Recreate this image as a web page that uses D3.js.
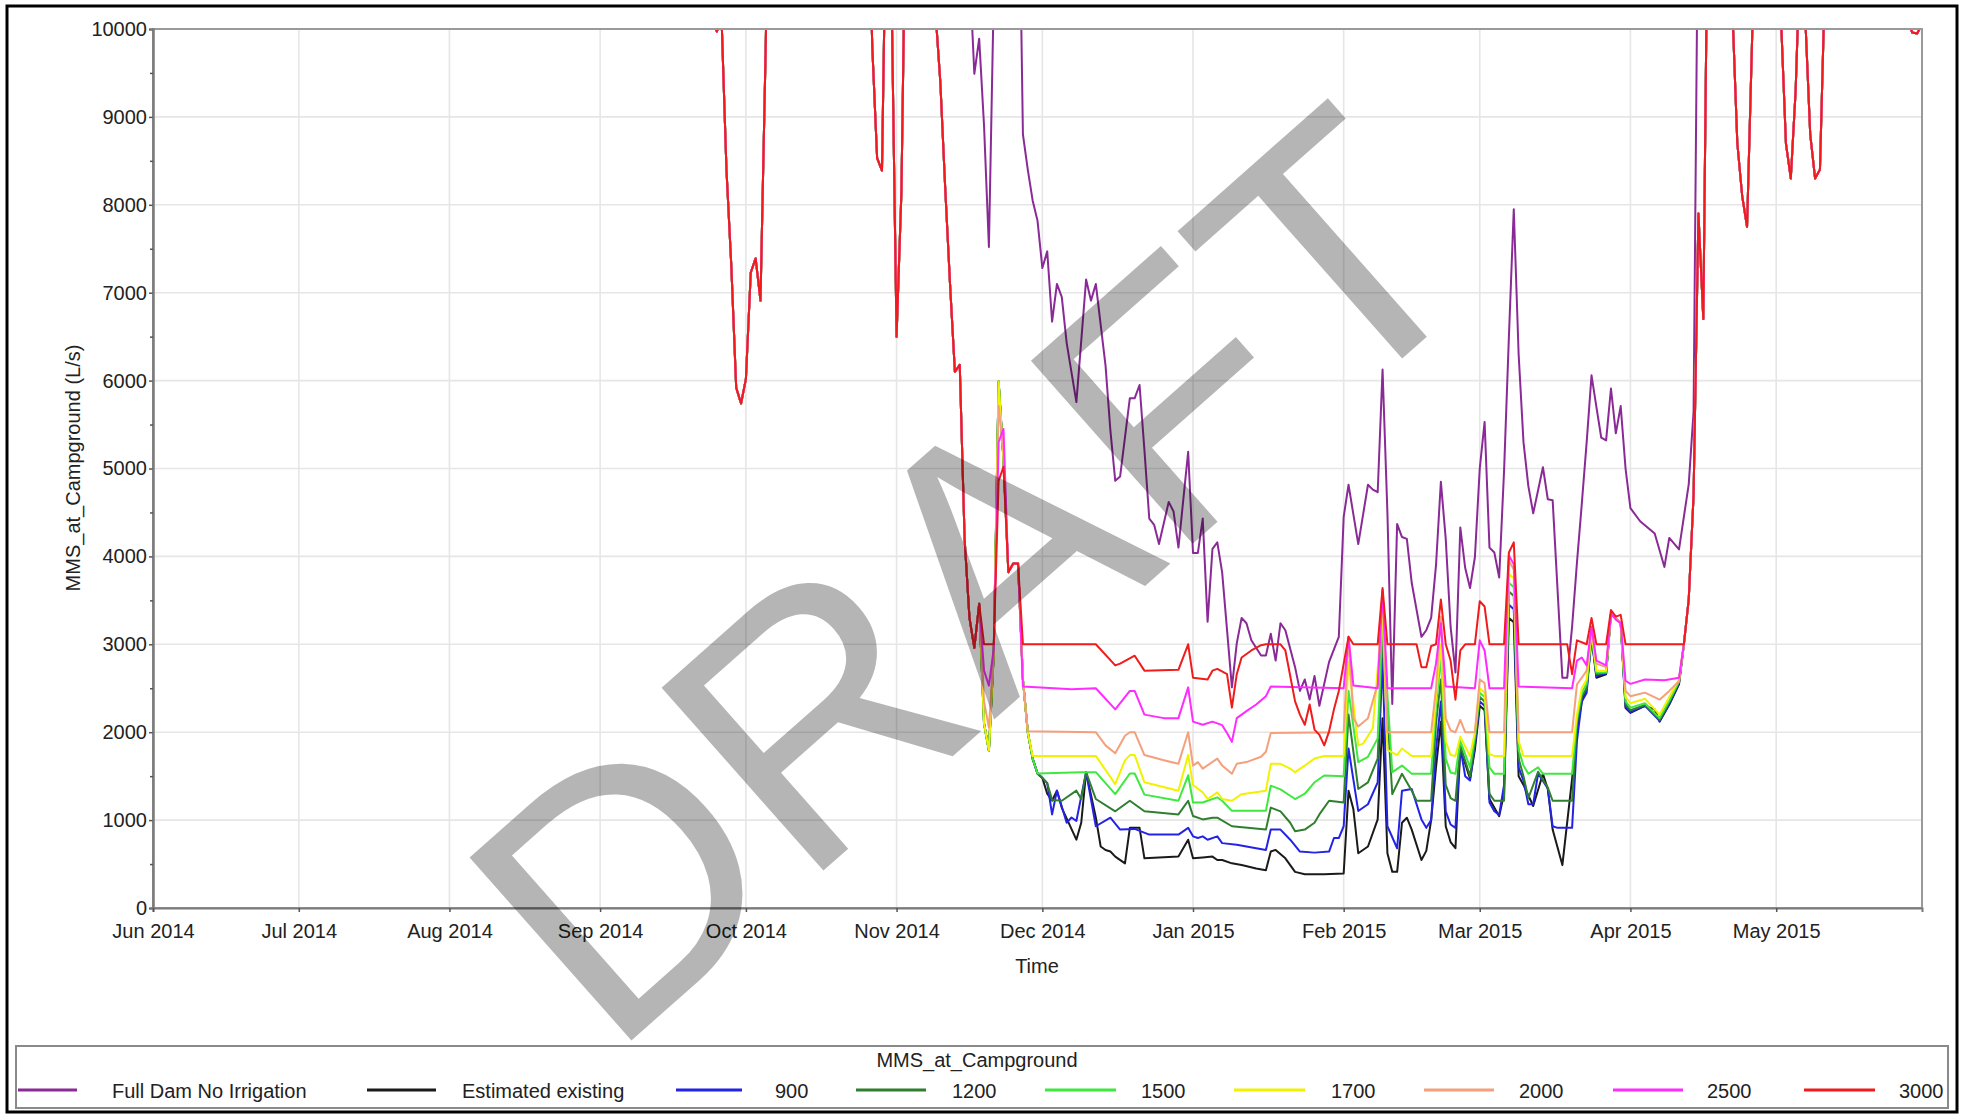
<!DOCTYPE html>
<html>
<head>
<meta charset="utf-8">
<script src="https://cdn.jsdelivr.net/npm/d3@7"></script>
<style>
  body { margin: 0; background: #fff; }
  svg { display: block; font-family: "Liberation Sans", Arial, sans-serif; }
</style>
</head>
<body>
<svg id="chart" width="1964" height="1117"></svg>
<script>
// ---- data -----------------------------------------------------------------
// Flow at the campground gauge (L/s), daily, Jun 2014 - May 2015.
// While natural flow is high every release scenario carries the same value.
const highFlowAutumn = [
  ["2014-09-20",12000],["2014-09-24",10300],["2014-09-25",9970],["2014-09-26",10100],
  ["2014-09-27",8400],["2014-09-28",7300],["2014-09-29",5920],["2014-09-30",5740],
  ["2014-10-01",6020],["2014-10-02",7230],["2014-10-03",7390],["2014-10-04",6910],
  ["2014-10-05",9600],["2014-10-06",12500],["2014-10-26",12000],["2014-10-27",9800],
  ["2014-10-28",8530],["2014-10-29",8390],["2014-10-30",12000],["2014-10-31",10300],
  ["2014-11-01",6500],["2014-11-02",8150],["2014-11-03",12000],["2014-11-08",12000],
  ["2014-11-09",10200],["2014-11-10",9400],["2014-11-11",8200],["2014-11-12",7100],
  ["2014-11-13",6100],["2014-11-14",6180],["2014-11-15",4200],["2014-11-16",3300],
  ["2014-11-17",2960],["2014-11-18",3460]
];

const highFlowSpring = [
  ["2015-04-12",3000],["2015-04-13",3510],["2015-04-14",4700],["2015-04-15",7900],
  ["2015-04-16",6700],["2015-04-17",12000],["2015-04-21",12000],["2015-04-22",10200],
  ["2015-04-23",8700],["2015-04-24",8100],["2015-04-25",7750],["2015-04-26",9800],
  ["2015-04-27",12000],["2015-05-01",12000],["2015-05-02",10100],["2015-05-03",8700],
  ["2015-05-04",8300],["2015-05-05",9300],["2015-05-06",11000],["2015-05-07",10100],
  ["2015-05-08",8800],["2015-05-09",8300],["2015-05-10",8400],["2015-05-11",10500],
  ["2015-05-12",12000],["2015-05-28",10100],["2015-05-29",9960],["2015-05-30",9950],
  ["2015-05-31",10050]
];

const fullDamNoIrrigation = [
  ["2014-11-15",12500],["2014-11-16",10700],["2014-11-17",9490],["2014-11-18",9890],
  ["2014-11-19",8900],["2014-11-20",7520],["2014-11-21",10400],["2014-11-22",12500],
  ["2014-11-26",12500],["2014-11-27",8800],["2014-11-28",8400],["2014-11-29",8050],
  ["2014-11-30",7820],["2014-12-01",7280],["2014-12-02",7470],["2014-12-03",6670],
  ["2014-12-04",7100],["2014-12-05",6950],["2014-12-06",6430],["2014-12-08",5755],
  ["2014-12-10",7150],["2014-12-11",6910],["2014-12-12",7100],["2014-12-14",6170],
  ["2014-12-15",5430],["2014-12-16",4860],["2014-12-17",4910],["2014-12-19",5800],
  ["2014-12-20",5800],["2014-12-21",5950],["2014-12-22",5210],["2014-12-23",4430],
  ["2014-12-24",4360],["2014-12-25",4140],["2014-12-27",4620],["2014-12-28",4510],
  ["2014-12-29",4100],["2014-12-31",5190],["2015-01-01",4040],["2015-01-02",4040],
  ["2015-01-03",4430],["2015-01-04",3257],["2015-01-05",4085],["2015-01-06",4160],
  ["2015-01-07",3815],["2015-01-09",2510],["2015-01-10",3010],["2015-01-11",3300],
  ["2015-01-12",3240],["2015-01-13",3046],["2015-01-15",2873],["2015-01-16",2873],
  ["2015-01-17",3120],["2015-01-18",2815],["2015-01-19",3240],["2015-01-20",3160],
  ["2015-01-22",2740],["2015-01-23",2470],["2015-01-24",2600],["2015-01-25",2373],
  ["2015-01-26",2640],["2015-01-27",2300],["2015-01-29",2800],["2015-01-31",3085],
  ["2015-02-01",4450],["2015-02-02",4815],["2015-02-04",4140],["2015-02-06",4815],
  ["2015-02-07",4760],["2015-02-08",4730],["2015-02-09",6125],["2015-02-10",4500],
  ["2015-02-11",2320],["2015-02-12",4370],["2015-02-13",4220],["2015-02-14",4200],
  ["2015-02-15",3700],["2015-02-17",3085],["2015-02-18",3160],["2015-02-19",3300],
  ["2015-02-20",3900],["2015-02-21",4850],["2015-02-22",4200],["2015-02-23",3200],
  ["2015-02-24",2680],["2015-02-25",4330],["2015-02-26",3870],["2015-02-27",3640],
  ["2015-02-28",3990],["2015-03-01",5000],["2015-03-02",5530],["2015-03-03",4100],
  ["2015-03-04",4045],["2015-03-05",3760],["2015-03-06",4970],["2015-03-07",6500],
  ["2015-03-08",7950],["2015-03-09",6300],["2015-03-10",5300],["2015-03-11",4800],
  ["2015-03-12",4490],["2015-03-14",5015],["2015-03-15",4650],["2015-03-16",4640],
  ["2015-03-18",2620],["2015-03-19",2620],["2015-03-20",3200],["2015-03-21",3930],
  ["2015-03-22",4600],["2015-03-23",5300],["2015-03-24",6060],["2015-03-25",5700],
  ["2015-03-26",5350],["2015-03-27",5320],["2015-03-28",5910],["2015-03-29",5400],
  ["2015-03-30",5710],["2015-03-31",5000],["2015-04-01",4550],["2015-04-03",4400],
  ["2015-04-06",4260],["2015-04-08",3880],["2015-04-09",4210],["2015-04-11",4080],
  ["2015-04-13",4820],["2015-04-14",5650],["2015-04-15",12000]
];

const estimatedExisting = [
  ["2014-11-19",2100],["2014-11-20",1790],["2014-11-21",2900],["2014-11-22",5990],
  ["2014-11-23",5100],["2014-11-24",3820],["2014-11-25",3920],["2014-11-26",3920],
  ["2014-11-27",2600],["2014-11-28",2000],["2014-11-29",1700],["2014-11-30",1530],
  ["2014-12-01",1480],["2014-12-02",1300],["2014-12-03",1220],["2014-12-04",1335],
  ["2014-12-05",1140],["2014-12-08",777],["2014-12-09",970],["2014-12-10",1546],
  ["2014-12-12",1030],["2014-12-13",700],["2014-12-14",660],["2014-12-15",642],
  ["2014-12-16",585],["2014-12-18",508],["2014-12-19",912],["2014-12-21",912],
  ["2014-12-22",565],["2014-12-29",585],["2014-12-31",777],["2015-01-01",565],
  ["2015-01-03",575],["2015-01-05",585],["2015-01-06",546],["2015-01-07",546],
  ["2015-01-09",508],["2015-01-11",490],["2015-01-14",450],["2015-01-16",430],
  ["2015-01-17",642],["2015-01-18",661],["2015-01-20",565],["2015-01-22",411],
  ["2015-01-24",385],["2015-01-28",385],["2015-02-01",392],["2015-02-02",1335],
  ["2015-02-03",1123],["2015-02-04",623],["2015-02-06",700],["2015-02-08",1008],
  ["2015-02-09",2160],["2015-02-10",623],["2015-02-11",411],["2015-02-12",411],
  ["2015-02-13",970],["2015-02-14",1027],["2015-02-15",892],["2015-02-17",546],
  ["2015-02-18",650],["2015-02-19",1000],["2015-02-20",1600],["2015-02-21",2120],
  ["2015-02-22",930],["2015-02-23",750],["2015-02-24",680],["2015-02-25",1815],
  ["2015-02-27",1470],["2015-02-28",1800],["2015-03-01",2300],["2015-03-02",2250],
  ["2015-03-03",1240],["2015-03-05",1045],["2015-03-06",1300],["2015-03-07",3300],
  ["2015-03-08",3250],["2015-03-09",1500],["2015-03-10",1400],["2015-03-12",1160],
  ["2015-03-14",1527],["2015-03-15",1354],["2015-03-16",892],["2015-03-18",488],
  ["2015-03-20",1470],["2015-03-21",2008],["2015-03-22",2350],["2015-03-23",2500],
  ["2015-03-24",3085],["2015-03-25",2620],["2015-03-27",2660],["2015-03-28",3350],
  ["2015-03-30",3240],["2015-03-31",2275],["2015-04-01",2220],["2015-04-04",2300],
  ["2015-04-06",2260],["2015-04-07",2120],["2015-04-09",2315],["2015-04-11",2545]
];

const release900 = [
  ["2014-11-19",2100],["2014-11-20",1790],["2014-11-21",2900],["2014-11-22",5990],
  ["2014-11-23",5100],["2014-11-24",3820],["2014-11-25",3920],["2014-11-26",3920],
  ["2014-11-27",2600],["2014-11-28",2000],["2014-11-29",1700],["2014-11-30",1530],
  ["2014-12-01",1480],["2014-12-02",1420],["2014-12-03",1065],["2014-12-04",1335],
  ["2014-12-06",970],["2014-12-07",1030],["2014-12-08",990],["2014-12-10",1546],
  ["2014-12-12",930],["2014-12-15",1027],["2014-12-17",892],["2014-12-20",900],
  ["2014-12-23",835],["2014-12-29",835],["2014-12-31",912],["2015-01-01",815],
  ["2015-01-02",796],["2015-01-03",815],["2015-01-04",777],["2015-01-06",815],
  ["2015-01-07",738],["2015-01-10",720],["2015-01-14",680],["2015-01-16",660],
  ["2015-01-17",892],["2015-01-19",892],["2015-01-21",777],["2015-01-23",642],
  ["2015-01-26",630],["2015-01-29",642],["2015-01-30",796],["2015-01-31",796],
  ["2015-02-01",930],["2015-02-02",1815],["2015-02-04",1104],["2015-02-06",1180],
  ["2015-02-08",1430],["2015-02-09",2850],["2015-02-10",930],["2015-02-12",680],
  ["2015-02-13",1335],["2015-02-15",1354],["2015-02-17",1008],["2015-02-18",912],
  ["2015-02-19",1000],["2015-02-20",1800],["2015-02-21",2350],["2015-02-22",1100],
  ["2015-02-23",950],["2015-02-24",912],["2015-02-25",1830],["2015-02-26",1500],
  ["2015-02-27",1450],["2015-02-28",1850],["2015-03-01",2350],["2015-03-02",2300],
  ["2015-03-03",1200],["2015-03-04",1100],["2015-03-05",1060],["2015-03-06",1400],
  ["2015-03-07",3450],["2015-03-08",3400],["2015-03-09",1600],["2015-03-10",1450],
  ["2015-03-11",1180],["2015-03-12",1180],["2015-03-13",1530],["2015-03-15",1360],
  ["2015-03-16",930],["2015-03-17",912],["2015-03-20",912],["2015-03-21",1900],
  ["2015-03-22",2350],["2015-03-23",2450],["2015-03-24",3090],["2015-03-25",2640],
  ["2015-03-27",2670],["2015-03-28",3350],["2015-03-30",3240],["2015-03-31",2290],
  ["2015-04-01",2230],["2015-04-04",2300],["2015-04-07",2130],["2015-04-09",2320],
  ["2015-04-11",2560]
];

const release1200 = [
  ["2014-11-19",2100],["2014-11-20",1790],["2014-11-21",2900],["2014-11-22",5990],
  ["2014-11-23",5100],["2014-11-24",3820],["2014-11-25",3920],["2014-11-26",3920],
  ["2014-11-27",2600],["2014-11-28",2000],["2014-11-29",1700],["2014-11-30",1530],
  ["2014-12-01",1480],["2014-12-02",1420],["2014-12-03",1230],["2014-12-05",1220],
  ["2014-12-08",1335],["2014-12-09",1240],["2014-12-10",1546],["2014-12-12",1240],
  ["2014-12-16",1100],["2014-12-19",1220],["2014-12-22",1100],["2014-12-29",1065],
  ["2014-12-31",1220],["2015-01-01",1046],["2015-01-03",1008],["2015-01-05",1027],
  ["2015-01-06",1027],["2015-01-09",930],["2015-01-16",892],["2015-01-17",1142],
  ["2015-01-19",1100],["2015-01-21",970],["2015-01-22",873],["2015-01-24",892],
  ["2015-01-26",970],["2015-01-27",1065],["2015-01-29",1220],["2015-02-01",1200],
  ["2015-02-02",2200],["2015-02-04",1354],["2015-02-06",1430],["2015-02-08",1700],
  ["2015-02-09",3100],["2015-02-11",1296],["2015-02-13",1527],["2015-02-15",1335],
  ["2015-02-16",1220],["2015-02-19",1220],["2015-02-20",2100],["2015-02-21",2600],
  ["2015-02-22",1400],["2015-02-23",1250],["2015-02-24",1220],["2015-02-25",1850],
  ["2015-02-27",1500],["2015-02-28",1900],["2015-03-01",2400],["2015-03-02",2350],
  ["2015-03-03",1300],["2015-03-04",1220],["2015-03-06",1220],["2015-03-07",3600],
  ["2015-03-08",3550],["2015-03-09",1700],["2015-03-10",1500],["2015-03-11",1250],
  ["2015-03-13",1550],["2015-03-15",1370],["2015-03-16",1220],["2015-03-20",1220],
  ["2015-03-21",2100],["2015-03-22",2400],["2015-03-23",2500],["2015-03-24",3100],
  ["2015-03-25",2660],["2015-03-27",2680],["2015-03-28",3350],["2015-03-30",3240],
  ["2015-03-31",2320],["2015-04-01",2250],["2015-04-04",2310],["2015-04-07",2140],
  ["2015-04-09",2340],["2015-04-11",2570]
];

const release1500 = [
  ["2014-11-19",2100],["2014-11-20",1790],["2014-11-21",2900],["2014-11-22",5990],
  ["2014-11-23",5100],["2014-11-24",3820],["2014-11-25",3920],["2014-11-26",3920],
  ["2014-11-27",2600],["2014-11-28",2000],["2014-11-29",1700],["2014-11-30",1530],
  ["2014-12-09",1545],["2014-12-12",1545],["2014-12-16",1296],["2014-12-19",1530],
  ["2014-12-20",1530],["2014-12-22",1290],["2014-12-29",1220],["2014-12-31",1510],
  ["2015-01-01",1200],["2015-01-03",1200],["2015-01-04",1220],["2015-01-06",1258],
  ["2015-01-07",1220],["2015-01-09",1105],["2015-01-16",1105],["2015-01-17",1392],
  ["2015-01-19",1350],["2015-01-21",1277],["2015-01-22",1240],["2015-01-24",1300],
  ["2015-01-26",1430],["2015-01-28",1508],["2015-02-01",1500],["2015-02-02",2470],
  ["2015-02-04",1660],["2015-02-06",1720],["2015-02-08",1930],["2015-02-09",3300],
  ["2015-02-11",1545],["2015-02-13",1620],["2015-02-15",1527],["2015-02-19",1527],
  ["2015-02-20",2300],["2015-02-21",2850],["2015-02-22",1700],["2015-02-23",1540],
  ["2015-02-24",1527],["2015-02-25",1900],["2015-02-27",1600],["2015-02-28",1950],
  ["2015-03-01",2450],["2015-03-02",2400],["2015-03-03",1600],["2015-03-04",1527],
  ["2015-03-06",1527],["2015-03-07",3700],["2015-03-08",3650],["2015-03-09",1800],
  ["2015-03-10",1620],["2015-03-11",1527],["2015-03-13",1600],["2015-03-14",1527],
  ["2015-03-20",1527],["2015-03-21",2150],["2015-03-22",2450],["2015-03-23",2550],
  ["2015-03-24",3120],["2015-03-25",2680],["2015-03-27",2680],["2015-03-28",3350],
  ["2015-03-30",3240],["2015-03-31",2350],["2015-04-01",2280],["2015-04-04",2330],
  ["2015-04-07",2160],["2015-04-09",2360],["2015-04-11",2580]
];

const release1700 = [
  ["2014-11-19",2100],["2014-11-20",1790],["2014-11-21",2900],["2014-11-22",5990],
  ["2014-11-23",5100],["2014-11-24",3820],["2014-11-25",3920],["2014-11-26",3920],
  ["2014-11-27",2600],["2014-11-28",2000],["2014-11-29",1730],["2014-12-12",1730],
  ["2014-12-16",1410],["2014-12-18",1680],["2014-12-19",1740],["2014-12-20",1740],
  ["2014-12-22",1430],["2014-12-29",1335],["2014-12-31",1740],["2015-01-01",1400],
  ["2015-01-03",1315],["2015-01-04",1240],["2015-01-06",1315],["2015-01-07",1240],
  ["2015-01-09",1220],["2015-01-11",1295],["2015-01-16",1335],["2015-01-17",1640],
  ["2015-01-19",1640],["2015-01-21",1585],["2015-01-22",1545],["2015-01-24",1620],
  ["2015-01-26",1700],["2015-01-28",1730],["2015-02-01",1730],["2015-02-02",2800],
  ["2015-02-04",1850],["2015-02-05",1870],["2015-02-07",2045],["2015-02-09",3400],
  ["2015-02-10",1800],["2015-02-12",1740],["2015-02-13",1815],["2015-02-15",1730],
  ["2015-02-19",1730],["2015-02-20",2400],["2015-02-21",3000],["2015-02-22",1900],
  ["2015-02-23",1740],["2015-02-24",1730],["2015-02-25",1950],["2015-02-27",1730],
  ["2015-02-28",2000],["2015-03-01",2500],["2015-03-02",2450],["2015-03-03",1750],
  ["2015-03-04",1730],["2015-03-06",1730],["2015-03-07",3800],["2015-03-08",3750],
  ["2015-03-09",1900],["2015-03-10",1730],["2015-03-20",1730],["2015-03-21",2200],
  ["2015-03-22",2500],["2015-03-23",2600],["2015-03-24",3150],["2015-03-25",2700],
  ["2015-03-27",2700],["2015-03-28",3350],["2015-03-30",3240],["2015-03-31",2400],
  ["2015-04-01",2330],["2015-04-04",2380],["2015-04-07",2200],["2015-04-09",2400],
  ["2015-04-11",2600]
];

const release2000 = [
  ["2014-11-19",2350],["2014-11-20",2050],["2014-11-21",2900],["2014-11-22",5710],
  ["2014-11-23",5200],["2014-11-24",3820],["2014-11-25",3920],["2014-11-26",3920],
  ["2014-11-27",2600],["2014-11-28",2010],["2014-12-12",2000],["2014-12-14",1850],
  ["2014-12-16",1760],["2014-12-18",1960],["2014-12-19",2000],["2014-12-20",2000],
  ["2014-12-22",1740],["2014-12-26",1680],["2014-12-29",1640],["2014-12-31",2000],
  ["2015-01-01",1620],["2015-01-02",1660],["2015-01-03",1585],["2015-01-06",1700],
  ["2015-01-07",1620],["2015-01-09",1527],["2015-01-10",1640],["2015-01-12",1660],
  ["2015-01-15",1720],["2015-01-16",1777],["2015-01-17",1990],["2015-02-01",2000],
  ["2015-02-02",3085],["2015-02-03",2160],["2015-02-04",2065],["2015-02-06",2160],
  ["2015-02-08",2550],["2015-02-09",3600],["2015-02-10",2000],["2015-02-19",2000],
  ["2015-02-20",2500],["2015-02-21",3315],["2015-02-22",2160],["2015-02-23",2020],
  ["2015-02-24",2000],["2015-02-25",2140],["2015-02-26",2000],["2015-02-28",2000],
  ["2015-03-01",2600],["2015-03-02",2560],["2015-03-03",2000],["2015-03-06",2000],
  ["2015-03-07",3950],["2015-03-08",3850],["2015-03-09",2000],["2015-03-20",2000],
  ["2015-03-21",2545],["2015-03-22",2620],["2015-03-23",2700],["2015-03-24",3200],
  ["2015-03-25",2780],["2015-03-27",2740],["2015-03-28",3350],["2015-03-30",3240],
  ["2015-03-31",2470],["2015-04-01",2410],["2015-04-04",2450],["2015-04-07",2370],
  ["2015-04-09",2470],["2015-04-11",2580]
];

const release2500 = [
  ["2014-11-19",2700],["2014-11-20",2530],["2014-11-21",2950],["2014-11-22",5300],
  ["2014-11-23",5450],["2014-11-24",3820],["2014-11-25",3920],["2014-11-26",3920],
  ["2014-11-27",2520],["2014-12-07",2490],["2014-12-12",2500],["2014-12-16",2260],
  ["2014-12-19",2470],["2014-12-20",2470],["2014-12-22",2200],["2014-12-26",2160],
  ["2014-12-29",2160],["2014-12-31",2510],["2015-01-01",2120],["2015-01-03",2085],
  ["2015-01-05",2120],["2015-01-07",2080],["2015-01-08",1990],["2015-01-09",1890],
  ["2015-01-10",2160],["2015-01-12",2240],["2015-01-14",2315],["2015-01-16",2410],
  ["2015-01-17",2520],["2015-02-01",2500],["2015-02-02",3085],["2015-02-03",2530],
  ["2015-02-08",2500],["2015-02-09",3620],["2015-02-10",2500],["2015-02-19",2500],
  ["2015-02-20",2780],["2015-02-21",3240],["2015-02-22",2520],["2015-02-28",2500],
  ["2015-03-01",3045],["2015-03-02",2930],["2015-03-03",2500],["2015-03-06",2500],
  ["2015-03-07",4010],["2015-03-08",3910],["2015-03-09",2520],["2015-03-20",2500],
  ["2015-03-21",2815],["2015-03-22",2850],["2015-03-23",2760],["2015-03-24",3200],
  ["2015-03-25",2815],["2015-03-27",2760],["2015-03-28",3350],["2015-03-29",3280],
  ["2015-03-30",3240],["2015-03-31",2585],["2015-04-01",2550],["2015-04-04",2600],
  ["2015-04-08",2590],["2015-04-11",2620]
];

const release3000 = [
  ["2014-11-19",3000],["2014-11-20",3000],["2014-11-21",3000],["2014-11-22",4860],
  ["2014-11-23",5020],["2014-11-24",3820],["2014-11-25",3920],["2014-11-26",3920],
  ["2014-11-27",3000],["2014-12-12",3000],["2014-12-16",2760],["2014-12-17",2780],
  ["2014-12-20",2870],["2014-12-22",2700],["2014-12-29",2710],["2014-12-31",3000],
  ["2015-01-01",2620],["2015-01-04",2600],["2015-01-05",2700],["2015-01-06",2720],
  ["2015-01-08",2660],["2015-01-09",2280],["2015-01-10",2660],["2015-01-11",2850],
  ["2015-01-13",2930],["2015-01-15",2990],["2015-01-16",3000],["2015-01-19",3000],
  ["2015-01-20",2930],["2015-01-22",2350],["2015-01-23",2200],["2015-01-24",2085],
  ["2015-01-25",2315],["2015-01-26",2030],["2015-01-27",1970],["2015-01-28",1850],
  ["2015-01-29",2010],["2015-01-30",2260],["2015-01-31",2470],["2015-02-02",3085],
  ["2015-02-03",3000],["2015-02-08",3000],["2015-02-09",3640],["2015-02-10",3000],
  ["2015-02-16",3000],["2015-02-17",2740],["2015-02-18",2740],["2015-02-19",2980],
  ["2015-02-20",3000],["2015-02-21",3510],["2015-02-22",3000],["2015-02-23",2815],
  ["2015-02-24",2370],["2015-02-25",2930],["2015-02-26",3000],["2015-02-28",3000],
  ["2015-03-01",3490],["2015-03-02",3430],["2015-03-03",3000],["2015-03-06",3000],
  ["2015-03-07",4045],["2015-03-08",4160],["2015-03-09",3000],["2015-03-19",3000],
  ["2015-03-20",2660],["2015-03-21",3045],["2015-03-23",3000],["2015-03-24",3300],
  ["2015-03-25",3000],["2015-03-27",3000],["2015-03-28",3390],["2015-03-29",3315],
  ["2015-03-30",3335],["2015-03-31",3000],["2015-04-11",3000]
];

const seriesNames  = ["Full Dam No Irrigation", "Estimated existing", "900", "1200",
                      "1500", "1700", "2000", "2500", "3000"];
const seriesColors = ["#8a2a96", "#1a1a1a", "#2323e8", "#2f7f2f", "#3fe83f",
                      "#f2f200", "#f4a07c", "#ff2bff", "#f01c1c"];
const yTickValues  = d3.range(0, 10001, 1000);
const yMinorValues = d3.range(500, 10000, 1000);

// ---- assembly -------------------------------------------------------------
const parse = d3.timeParse("%Y-%m-%d");
const scenario = mid => highFlowAutumn.concat(mid, highFlowSpring);
const seriesValues = [
  fullDamNoIrrigation,
  scenario(estimatedExisting),
  scenario(release900),
  scenario(release1200),
  scenario(release1500),
  scenario(release1700),
  scenario(release2000),
  scenario(release2500),
  scenario(release3000)
];
const series = seriesNames.map((name, i) => ({
  name, color: seriesColors[i],
  points: seriesValues[i].map(([d, v]) => ({ date: parse(d), value: v }))
}));

// ---- layout ---------------------------------------------------------------
const svg = d3.select("#chart");
const plot = { left: 153, right: 1922, top: 29, bottom: 908 };
const x = d3.scaleTime()
  .domain([parse("2014-06-01"), parse("2015-05-31")])
  .range([plot.left, plot.right]);
const y = d3.scaleLinear().domain([0, 10000]).range([plot.bottom, plot.top]);

svg.append("rect").attr("width", 1964).attr("height", 1117).attr("fill", "#fff");

// grid
const grid = svg.append("g");
grid.selectAll("line.h").data(yTickValues.slice(1, -1)).join("line")
  .attr("x1", plot.left).attr("x2", plot.right)
  .attr("y1", d => y(d)).attr("y2", d => y(d))
  .attr("stroke", "#e6e6e6").attr("stroke-width", 1.6);
const months = x.ticks(d3.timeMonth.every(1));
grid.selectAll("line.v").data(months.slice(1)).join("line")
  .attr("x1", d => x(d)).attr("x2", d => x(d))
  .attr("y1", plot.top).attr("y2", plot.bottom)
  .attr("stroke", "#e6e6e6").attr("stroke-width", 1.6);

// series
svg.append("clipPath").attr("id", "plotClip").append("rect")
  .attr("x", plot.left).attr("y", plot.top)
  .attr("width", plot.right - plot.left).attr("height", plot.bottom - plot.top);
const line = d3.line().x(d => x(d.date)).y(d => y(d.value));
svg.append("g").attr("clip-path", "url(#plotClip)")
  .selectAll("path").data(series).join("path")
  .attr("d", d => line(d.points))
  .attr("fill", "none").attr("stroke", d => d.color)
  .attr("stroke-width", 2).attr("stroke-linejoin", "round");

// frame
svg.append("rect").attr("x", plot.left).attr("y", plot.top)
  .attr("width", plot.right - plot.left).attr("height", plot.bottom - plot.top)
  .attr("fill", "none").attr("stroke", "#9a9a9a").attr("stroke-width", 2);

// axes
const yAxis = svg.append("g").attr("transform", `translate(${plot.left},0)`)
  .call(d3.axisLeft(y).tickValues(yTickValues).tickSize(4).tickPadding(2)
    .tickFormat(d3.format("d")));
const yMinor = svg.append("g").attr("transform", `translate(${plot.left},0)`)
  .call(d3.axisLeft(y).tickValues(yMinorValues).tickSize(3).tickFormat(""));
const xAxis = svg.append("g").attr("transform", `translate(0,${plot.bottom})`)
  .call(d3.axisBottom(x).ticks(d3.timeMonth.every(1)).tickSize(4).tickPadding(12)
    .tickFormat(d3.timeFormat("%b %Y")));
[yAxis, yMinor, xAxis].forEach(g => {
  g.select(".domain").attr("stroke", "#7a7a7a").attr("stroke-width", 2);
  g.selectAll(".tick line").attr("stroke", "#555").attr("stroke-width", 1.5);
  g.selectAll("text").attr("font-size", 20).attr("fill", "#222")
    .attr("font-family", '"Liberation Sans", Arial, sans-serif');
});

// axis titles
svg.append("text").attr("x", 1037).attr("y", 973).attr("text-anchor", "middle")
  .attr("font-size", 20).attr("fill", "#222").text("Time");
svg.append("text").attr("transform", "translate(80,468) rotate(-90)")
  .attr("text-anchor", "middle").attr("font-size", 20).attr("fill", "#222")
  .text("MMS_at_Campground (L/s)");

// legend
const legend = svg.append("g");
legend.append("rect").attr("x", 16).attr("y", 1046).attr("width", 1932).attr("height", 62)
  .attr("fill", "#fff").attr("stroke", "#8a8a8a").attr("stroke-width", 2);
legend.append("text").attr("x", 977).attr("y", 1067).attr("text-anchor", "middle")
  .attr("font-size", 20).attr("fill", "#222").text("MMS_at_Campground");
const legendLineStart = [18, 367, 676, 856, 1045, 1234, 1424, 1613, 1804];
const legendLineEnd   = [77, 436, 742, 926, 1116, 1305, 1494, 1683, 1875];
const legendTextStart = [112, 462, 775, 952, 1141, 1331, 1519, 1707, 1899];
series.forEach((s, i) => {
  legend.append("line")
    .attr("x1", legendLineStart[i]).attr("x2", legendLineEnd[i])
    .attr("y1", 1090).attr("y2", 1090)
    .attr("stroke", s.color).attr("stroke-width", 3);
  legend.append("text").attr("x", legendTextStart[i]).attr("y", 1098)
    .attr("font-size", 20).attr("fill", "#222").text(s.name);
});

// outer border
svg.append("rect").attr("x", 7).attr("y", 6).attr("width", 1950).attr("height", 1106)
  .attr("fill", "none").attr("stroke", "#000").attr("stroke-width", 3);

// watermark
svg.append("text")
  .attr("transform", "translate(968,572) rotate(-41.5)")
  .attr("text-anchor", "middle").attr("dy", "0.36em")
  .attr("font-size", 355).attr("fill", "#000").attr("fill-opacity", 0.29)
  .text("DRAFT");
</script>
</body>
</html>
